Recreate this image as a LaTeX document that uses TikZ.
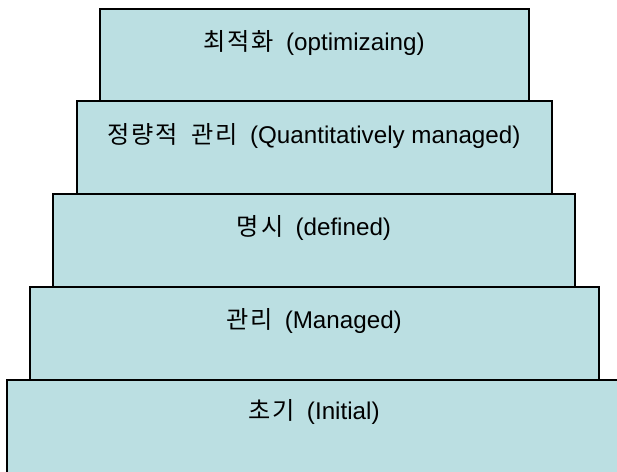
\documentclass[tikz,border=0pt]{standalone}
\usepackage{fontspec}
\setmainfont{Liberation Sans}
\newfontfamily\kr[LetterSpace=8]{Noto Sans CJK KR}
\definecolor{boxfill}{HTML}{BBDFE2}
\newcommand{\gapsp}{\hspace{0.5em}}
\newcommand{\krsp}{\hspace{0.55em}}
\begin{document}
\begin{tikzpicture}[x=1pt,y=-1pt,
  tier/.style={draw=black,fill=boxfill,line width=2pt,rectangle,inner sep=0pt},
  lbl/.style={font=\fontsize{24.2}{28}\selectfont,text=black,inner sep=0pt}]
\useasboundingbox (0,0) rectangle (617,471);
\clip (0,0) rectangle (617,471);
\path[tier] (7,380) rectangle (650,520);
\path[tier] (30,287) rectangle (599,380);
\path[tier] (53,194) rectangle (575,287);
\path[tier] (77,101) rectangle (552,194);
\path[tier] (100,9) rectangle (529,101);
\node[lbl] (t1) at (314,43) {{\kr 최적화}\gapsp(optimizaing)};
\node[lbl] (t2) at (314,136) {{\kr 정량적}\krsp{\kr 관리}\gapsp(Quantitatively managed)};
\node[lbl] (t3) at (314,228) {{\kr 명시}\gapsp(defined)};
\node[lbl] (t4) at (314,321) {{\kr 관리}\gapsp(Managed)};
\node[lbl] (t5) at (314,412) {{\kr 초기}\gapsp(Initial)};
\end{tikzpicture}
\end{document}
